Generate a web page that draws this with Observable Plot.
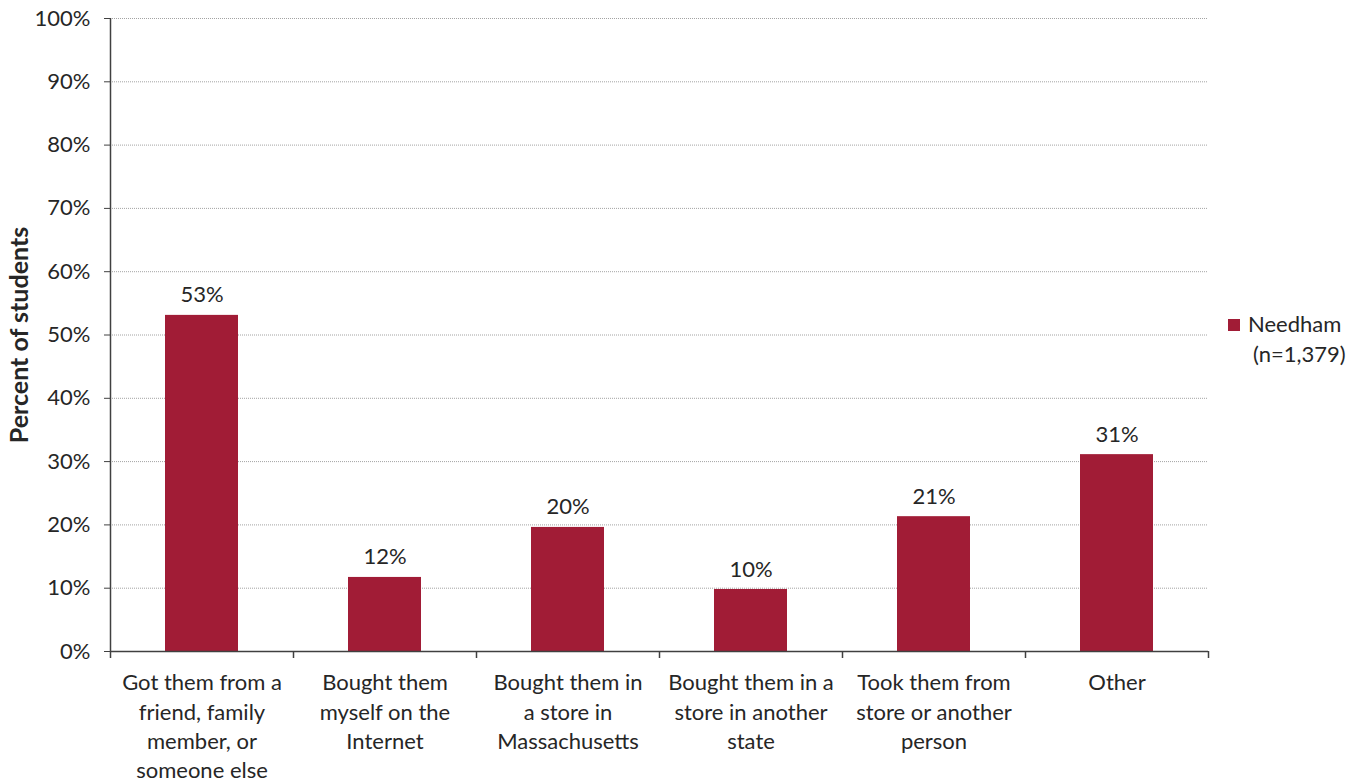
<!DOCTYPE html>
<html>
<head>
<meta charset="utf-8">
<script src="https://cdn.jsdelivr.net/npm/d3@7"></script>
<script src="https://cdn.jsdelivr.net/npm/@observablehq/plot@0.6"></script>
<style>
  html, body { margin: 0; padding: 0; background: #fff; }
  #wrap { position: relative; width: 1358px; height: 782px; font-family: Lato, "Open Sans", sans-serif; color: #262626; }
  #legend { position: absolute; left: 1228px; top: 309px; font-size: 22px; line-height: 30px; }
  #legend .sw { display: inline-block; width: 12px; height: 12px; background: #A11C36; margin-right: 8px; vertical-align: 1px; }
  #legend .l2 { padding-left: 25px; }
</style>
</head>
<body>
<div id="wrap">
  <div id="chart"></div>
  <div id="legend"><div><span class="sw"></span>Needham</div><div class="l2">(n=1,379)</div></div>
</div>
<script>
const categories = [
  "Got them from a\nfriend, family\nmember, or\nsomeone else",
  "Bought them\nmyself on the\nInternet",
  "Bought them in\na store in\nMassachusetts",
  "Bought them in a\nstore in another\nstate",
  "Took them from\nstore or another\nperson",
  "Other"
];
const values = [53.1, 11.7, 19.6, 9.8, 21.3, 31.1];
const valueLabels = ["53%", "12%", "20%", "10%", "21%", "31%"];
const yTicks = [0, 10, 20, 30, 40, 50, 60, 70, 80, 90, 100];

const data = categories.map((c, i) => ({cat: c, value: values[i], label: valueLabels[i]}));

const W = 1358, H = 782;
const mL = 110, mR = 150, mT = 18, mB = 131;
const step = (W - mL - mR) / categories.length;
const FS = 22;

const chart = Plot.plot({
  width: W,
  height: H,
  marginLeft: mL,
  marginRight: mR,
  marginTop: mT,
  marginBottom: mB,
  style: {fontFamily: "Lato, 'Open Sans', sans-serif", fontSize: FS + "px", color: "#262626", background: "#fff"},
  x: {domain: categories, paddingInner: 0.6, paddingOuter: 0.3, label: null},
  y: {domain: [0, 100], label: null},
  marks: [
    Plot.gridY(yTicks.slice(1), {stroke: "#8c8c8c", strokeOpacity: 1, strokeWidth: 0.8, strokeDasharray: "1,1"}),
    Plot.barY(data, {x: "cat", y: "value", fill: "#A11C36"}),
    Plot.text(data, {x: "cat", y: "value", text: "label", dy: -20, lineAnchor: "middle", fill: "#262626", fontSize: FS}),
    Plot.axisY({ticks: yTicks, tickFormat: d => d + "%", tickSize: 6, tickPadding: 14, stroke: "#404040", fill: "#262626", fontSize: FS,
      label: "Percent of students", labelAnchor: "center", labelArrow: "none", labelOffset: 100}),
    Plot.axisX({tickSize: 0, tickPadding: 18, fill: "#262626", fontSize: FS, lineHeight: 1.33, label: null}),
    Plot.ruleY([0], {stroke: "#404040", strokeWidth: 1.5}),
    Plot.ruleX([categories[0]], {y1: 0, y2: 100, dx: -step / 2, stroke: "#404040", strokeWidth: 1.5}),
    Plot.ruleX(categories, {y1: 0, y2: 0, dx: -step / 2, stroke: "#404040", strokeWidth: 1.5, insetBottom: -7}),
    Plot.ruleX([categories[categories.length - 1]], {y1: 0, y2: 0, dx: step / 2, stroke: "#404040", strokeWidth: 1.5, insetBottom: -7})
  ]
});
document.getElementById("chart").appendChild(chart);
// bold axis label, larger as in the reference
chart.querySelectorAll("text").forEach(t => {
  if (t.textContent === "Percent of students") {
    t.setAttribute("font-weight", "bold");
    t.setAttribute("font-size", "25");
  }
});
</script>
</body>
</html>
